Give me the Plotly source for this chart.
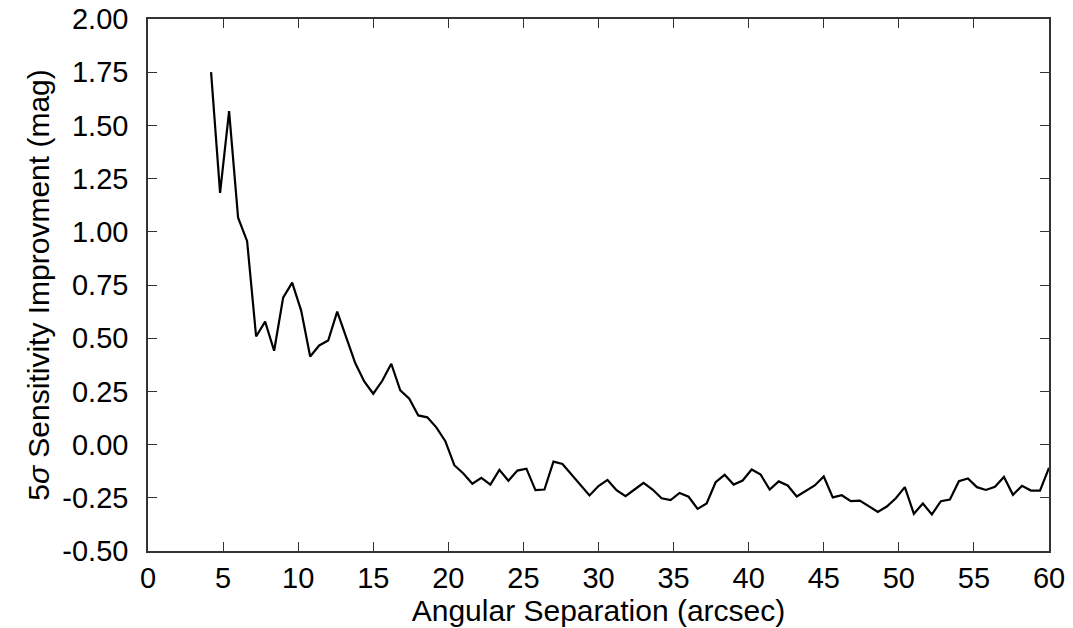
import plotly.graph_objects as go

separation_arcsec = [
    4.2, 4.8, 5.4, 6.0, 6.6, 7.2, 7.8, 8.4, 9.0, 9.6,
    10.2, 10.8, 11.4, 12.0, 12.6, 13.2, 13.8, 14.4, 15.0, 15.6,
    16.2, 16.8, 17.4, 18.0, 18.6, 19.2, 19.8, 20.4, 21.0, 21.6,
    22.2, 22.8, 23.4, 24.0, 24.6, 25.2, 25.8, 26.4, 27.0, 27.6,
    28.2, 28.8, 29.4, 30.0, 30.6, 31.2, 31.8, 32.4, 33.0, 33.6,
    34.2, 34.8, 35.4, 36.0, 36.6, 37.2, 37.8, 38.4, 39.0, 39.6,
    40.2, 40.8, 41.4, 42.0, 42.6, 43.2, 43.8, 44.4, 45.0, 45.6,
    46.2, 46.8, 47.4, 48.0, 48.6, 49.2, 49.8, 50.4, 51.0, 51.6,
    52.2, 52.8, 53.4, 54.0, 54.6, 55.2, 55.8, 56.4, 57.0, 57.6,
    58.2, 58.8, 59.4, 60.0,
]

improvement_mag = [
    1.750, 1.183, 1.567, 1.066, 0.956, 0.508, 0.578, 0.441, 0.691, 0.761,
    0.630, 0.414, 0.466, 0.489, 0.625, 0.505, 0.383, 0.297, 0.239, 0.300,
    0.380, 0.255, 0.216, 0.137, 0.128, 0.081, 0.016, -0.097, -0.136, -0.184,
    -0.156, -0.188, -0.119, -0.170, -0.122, -0.113, -0.214, -0.211, -0.080, -0.091,
    -0.141, -0.191, -0.239, -0.195, -0.166, -0.214, -0.242, -0.211, -0.180, -0.211,
    -0.252, -0.261, -0.227, -0.245, -0.302, -0.277, -0.177, -0.142, -0.188, -0.169,
    -0.117, -0.141, -0.211, -0.173, -0.192, -0.244, -0.217, -0.192, -0.150, -0.248,
    -0.238, -0.266, -0.263, -0.289, -0.316, -0.291, -0.252, -0.200, -0.325, -0.277,
    -0.328, -0.266, -0.258, -0.172, -0.159, -0.200, -0.213, -0.198, -0.152, -0.236,
    -0.194, -0.216, -0.216, -0.109,
]

x_ticks = [0, 5, 10, 15, 20, 25, 30, 35, 40, 45, 50, 55, 60]
y_ticks = [-0.50, -0.25, 0.00, 0.25, 0.50, 0.75, 1.00, 1.25, 1.50, 1.75, 2.00]
y_tick_text = ["-0.50", "-0.25", "0.00", "0.25", "0.50", "0.75", "1.00", "1.25", "1.50", "1.75", "2.00"]

FONT = "Liberation Sans, Arial, Helvetica, sans-serif"

fig = go.Figure()
fig.add_trace(go.Scatter(
    x=separation_arcsec,
    y=improvement_mag,
    mode="lines",
    line=dict(color="black", width=2.2),
    showlegend=False,
))

axis_common = dict(
    showline=True,
    linecolor="#333333",
    linewidth=1.5,
    mirror="ticks",
    ticks="inside",
    ticklen=9,
    tickwidth=1.2,
    tickcolor="#333333",
    showgrid=False,
    zeroline=False,
    automargin=False,
    tickfont=dict(family=FONT, size=29, color="black"),
)

fig.update_layout(
    width=1073,
    height=628,
    margin=dict(l=148, r=24, t=19, b=77),
    paper_bgcolor="white",
    plot_bgcolor="white",
    font=dict(family=FONT, color="black"),
    xaxis=dict(
        range=[0, 60],
        tickvals=x_ticks,
        ticklabelstandoff=0,
        title=dict(text="Angular Separation (arcsec)", font=dict(family=FONT, size=30), standoff=6),
        **axis_common,
    ),
    yaxis=dict(
        range=[-0.5, 2.0],
        tickvals=y_ticks,
        ticktext=y_tick_text,
        ticklabelstandoff=12,
        title=dict(text="5<i>σ</i> Sensitivity Improvment (mag)", font=dict(family=FONT, size=30), standoff=4),
        **axis_common,
    ),
)

fig.write_html("out.html")
